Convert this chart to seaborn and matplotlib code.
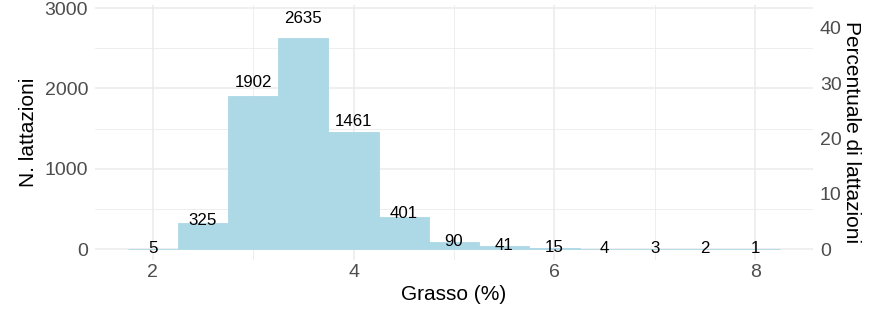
import matplotlib
matplotlib.use("Agg")
import matplotlib.pyplot as plt
import seaborn as sns
import numpy as np
import pandas as pd

# Data
fat_pct = [2.0, 2.5, 3.0, 3.5, 4.0, 4.5, 5.0, 5.5, 6.0, 6.5, 7.0, 7.5, 8.0]
n_lact = [5, 325, 1902, 2635, 1461, 401, 90, 41, 15, 4, 3, 2, 1]
x_ticks = [2, 4, 6, 8]
y_ticks = [0, 1000, 2000, 3000]
pct_ticks = [0, 10, 20, 30, 40]

df = pd.DataFrame({"fat": fat_pct, "n": n_lact})
total = df["n"].sum()

sns.set_theme(style="whitegrid")
plt.rcParams["font.family"] = ["Liberation Sans", "DejaVu Sans"]

fig = plt.figure(figsize=(8.75, 3.14), dpi=100)
ax = fig.add_axes([95 / 875, 1 - 260 / 314, (813 - 95) / 875, (260 - 5) / 314])

sns.histplot(data=df, x="fat", weights="n", binwidth=0.5, binrange=(1.75, 8.25),
             color="#ADD8E6", alpha=1, edgecolor="#ADD8E6", linewidth=0.6, ax=ax)

for xv, nv in zip(df["fat"], df["n"]):
    ax.text(xv, nv * 1.09, str(nv), ha="center", va="center", fontsize=12.2, color="black")

ax.set_xlim(1.425, 8.575)
ax.set_ylim(-137, 3040)
ax.set_xticks(x_ticks)
ax.set_yticks(y_ticks)
ax.set_xticks([3, 5, 7], minor=True)
ax.set_yticks([500, 1500, 2500], minor=True)
ax.grid(True, which="major", color="#EBEBEB", linewidth=1.1)
ax.grid(True, which="minor", color="#EBEBEB", linewidth=0.6)
ax.set_axisbelow(True)
for s in ax.spines.values():
    s.set_visible(False)
ax.tick_params(axis="both", which="both", length=0, labelsize=14, labelcolor="#4D4D4D")
ax.tick_params(axis="x", pad=3)
ax.tick_params(axis="y", pad=5)
ax.set_xlabel("Grasso (%)", fontsize=15, color="black", labelpad=3)
ax.set_ylabel("N. lattazioni", fontsize=15, color="black", labelpad=5)

sec = ax.secondary_yaxis("right", functions=(lambda c: c / total * 100, lambda p: p * total / 100))
sec.set_yticks(pct_ticks)
for s in sec.spines.values():
    s.set_visible(False)
sec.tick_params(axis="y", length=0, labelsize=14, labelcolor="#4D4D4D", pad=5)
sec.set_ylabel("Percentuale di lattazioni", fontsize=15, color="black", rotation=-90,
               va="bottom", labelpad=0)

fig.savefig("out.png", dpi=100)
